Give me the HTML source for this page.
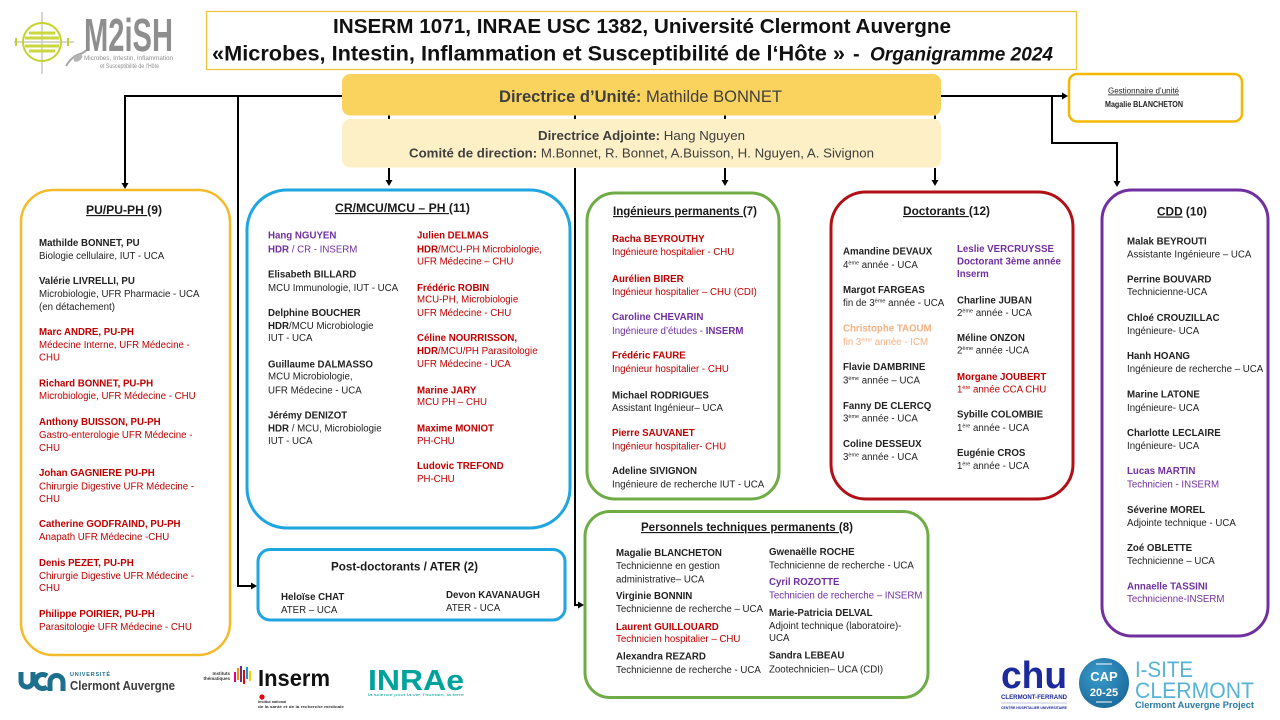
<!DOCTYPE html>
<html>
<head>
<meta charset="utf-8">
<style>
html,body{margin:0;padding:0;background:#fff;}
svg{display:block;}
text{font-family:"Liberation Sans",sans-serif;font-size:9.7px;fill:#222;}
.b{font-weight:bold;}
.r{fill:#c00000;}
.p{fill:#7030a0;}
.o{fill:#f4b183;}
.t{font-size:11.5px;font-weight:bold;fill:#1a1a1a;}
.u{text-decoration:underline;}
</style>
</head>
<body>
<svg width="1280" height="720" viewBox="0 0 1280 720" xmlns="http://www.w3.org/2000/svg">
<rect width="1280" height="720" fill="#fff"/>

<!-- M2iSH logo -->
<g>
  <line x1="14" y1="42" x2="74" y2="42" stroke="#c9c9c9" stroke-width="1.5"/>
  <line x1="42" y1="12" x2="42" y2="74" stroke="#c9c9c9" stroke-width="1.5"/>
  <circle cx="42" cy="42" r="19" fill="none" stroke="#c5d22c" stroke-width="2"/>
  <line x1="29" y1="33" x2="55" y2="33" stroke="#cbd73e" stroke-width="3"/>
  <line x1="25" y1="38" x2="59" y2="38" stroke="#cbd73e" stroke-width="3"/>
  <line x1="25" y1="46" x2="59" y2="46" stroke="#cbd73e" stroke-width="3"/>
  <line x1="29" y1="51" x2="55" y2="51" stroke="#cbd73e" stroke-width="3"/>
  <line x1="16" y1="38" x2="16" y2="46" stroke="#c5d22c" stroke-width="2"/>
  <line x1="68" y1="38" x2="68" y2="46" stroke="#c5d22c" stroke-width="2"/>
  <path d="M66,66 Q72,56 80,54 Q86,52 88,48" fill="none" stroke="#a8a8a8" stroke-width="2"/>
  <ellipse cx="78" cy="58" rx="5" ry="3" fill="#b5b5b5" transform="rotate(-35 78 58)"/>
  <text x="84" y="51" style="font-size:46px;font-weight:bold;fill:#8e8e8e" textLength="89" lengthAdjust="spacingAndGlyphs">M2iSH</text>
  <text x="84" y="60" style="font-size:6px;fill:#8e8e8e" textLength="89" lengthAdjust="spacingAndGlyphs">Microbes, Intestin, Inflammation</text>
  <text x="100" y="68" style="font-size:6px;fill:#8e8e8e" textLength="59" lengthAdjust="spacingAndGlyphs">et Susceptibilité de l'Hôte</text>
</g>

<!-- Title box -->
<rect x="206.5" y="11.5" width="870" height="58" fill="#fff" stroke="#f0c23a" stroke-width="1.2"/>
<text x="333" y="33" style="font-size:20.5px;font-weight:bold;fill:#111" textLength="618" lengthAdjust="spacingAndGlyphs">INSERM 1071, INRAE USC 1382, Université Clermont Auvergne</text>
<text x="212" y="60.5" style="font-size:21.5px;font-weight:bold;fill:#111" textLength="633" lengthAdjust="spacingAndGlyphs">«Microbes, Intestin, Inflammation et Susceptibilité de l‘Hôte »</text>
<text x="853" y="60.5" style="font-size:20px;font-weight:bold;fill:#111">-</text>
<text x="870" y="60.5" style="font-size:19px;font-weight:bold;font-style:italic;fill:#111" textLength="183" lengthAdjust="spacingAndGlyphs">Organigramme  2024</text>

<!-- Directrice boxes -->
<rect x="342" y="74" width="599" height="41.5" rx="8" fill="#fad35e"/>
<text x="499" y="102" style="font-size:16.5px;fill:#3f3f3f" textLength="283" lengthAdjust="spacingAndGlyphs"><tspan class="b" style="fill:#3f3f3f">Directrice d’Unité:</tspan> Mathilde BONNET</text>
<rect x="342" y="119" width="599" height="48.5" rx="8" fill="#fdefc6"/>
<text x="538" y="140" style="font-size:12.5px;fill:#404040" textLength="207" lengthAdjust="spacingAndGlyphs"><tspan class="b" style="fill:#404040">Directrice Adjointe:</tspan> Hang  Nguyen</text>
<text x="409" y="157.5" style="font-size:12.5px;fill:#404040" textLength="465" lengthAdjust="spacingAndGlyphs"><tspan class="b" style="fill:#404040">Comité de direction:</tspan> M.Bonnet, R. Bonnet,  A.Buisson, H. Nguyen, A. Sivignon</text>

<!-- Gestionnaire -->
<rect x="1069" y="74" width="173" height="47.5" rx="8" fill="#fff" stroke="#f5b800" stroke-width="2.5"/>
<text x="1108" y="93.5" style="font-size:8px;fill:#222" class="u" textLength="71" lengthAdjust="spacingAndGlyphs">Gestionnaire d’unité</text>
<text x="1105" y="107" style="font-size:8px;font-weight:bold;fill:#222" textLength="78" lengthAdjust="spacingAndGlyphs">Magalie BLANCHETON</text>

<!-- connector lines -->
<g stroke="#000" stroke-width="2" fill="none">
  <path d="M342,96 H125 V184"/>
  <path d="M238,96 V586 H252"/>
  <path d="M575,168 V605 H579"/>
  <path d="M389,115.5 V119 M575,115.5 V119 M725,115.5 V119 M935,115.5 V119"/>
  <path d="M389,168 V181"/>
  <path d="M725,168 V181"/>
  <path d="M935,168 V181"/>
  <path d="M941,96 H1063"/>
  <path d="M1052,96 V143 H1117 V182"/>
</g>
<g fill="#000">
  <polygon points="121.5,183 128.5,183 125,189"/>
  <polygon points="251,582.5 251,589.5 257,586"/>
  <polygon points="578,601.5 578,608.5 584,605"/>
  <polygon points="385.5,180 392.5,180 389,186"/>
  <polygon points="721.5,180 728.5,180 725,186"/>
  <polygon points="931.5,180 938.5,180 935,186"/>
  <polygon points="1062,92.5 1062,99.5 1068,96"/>
  <polygon points="1113.5,181 1120.5,181 1117,187"/>
</g>

<!-- PU / PU-PH box -->
<rect x="21" y="190" width="209" height="465" rx="32" fill="#fff" stroke="#f3bb2a" stroke-width="2.5"/>
<text x="86" y="214" class="t" textLength="76" lengthAdjust="spacingAndGlyphs"><tspan class="u">PU/PU-PH </tspan> (9)</text>
<g>
<text x="39" y="245.8" class="b">Mathilde BONNET, PU</text>
<text x="39" y="259.2">Biologie cellulaire, IUT - UCA</text>
<text x="39" y="284" class="b">Valérie LIVRELLI, PU</text>
<text x="39" y="297">Microbiologie, UFR Pharmacie - UCA</text>
<text x="39" y="310.2">(en détachement)</text>
<text x="39" y="335.2" class="b r">Marc ANDRE, PU-PH</text>
<text x="39" y="348" class="r">Médecine Interne, UFR Médecine -</text>
<text x="39" y="360.5" class="r">CHU</text>
<text x="39" y="386.5" class="b r">Richard BONNET, PU-PH</text>
<text x="39" y="399.2" class="r">Microbiologie, UFR Médecine - CHU</text>
<text x="39" y="425" class="b r">Anthony BUISSON, PU-PH</text>
<text x="39" y="438" class="r">Gastro-enterologie UFR Médecine -</text>
<text x="39" y="451" class="r">CHU</text>
<text x="39" y="476.2" class="b r">Johan GAGNIERE PU-PH</text>
<text x="39" y="489.5" class="r">Chirurgie Digestive UFR Médecine -</text>
<text x="39" y="502" class="r">CHU</text>
<text x="39" y="527" class="b r">Catherine GODFRAIND, PU-PH</text>
<text x="39" y="540" class="r">Anapath UFR Médecine -CHU</text>
<text x="39" y="566" class="b r">Denis PEZET, PU-PH</text>
<text x="39" y="579.2" class="r">Chirurgie Digestive UFR Médecine -</text>
<text x="39" y="591.2" class="r">CHU</text>
<text x="39" y="617" class="b r">Philippe POIRIER, PU-PH</text>
<text x="39" y="630.2" class="r">Parasitologie UFR Médecine - CHU</text>
</g>

<!-- CR / MCU box -->
<rect x="247" y="190" width="323" height="338" rx="40" fill="#fff" stroke="#1fa5e0" stroke-width="3"/>
<text x="335" y="212" class="t" textLength="135" lengthAdjust="spacingAndGlyphs"><tspan class="u">CR/MCU/MCU  – PH </tspan> (11)</text>
<g>
<text x="268" y="238.5" class="b p">Hang NGUYEN</text>
<text x="268" y="252.5" class="p"><tspan class="b">HDR</tspan> / CR - INSERM</text>
<text x="268" y="277.5" class="b">Elisabeth BILLARD</text>
<text x="268" y="291">MCU Immunologie, IUT - UCA</text>
<text x="268" y="316.2" class="b">Delphine BOUCHER</text>
<text x="268" y="329.2"><tspan class="b">HDR</tspan>/MCU Microbiologie</text>
<text x="268" y="341">IUT - UCA</text>
<text x="268" y="367.5" class="b">Guillaume DALMASSO</text>
<text x="268" y="379.5">MCU Microbiologie,</text>
<text x="268" y="393.5">UFR Médecine - UCA</text>
<text x="268" y="418.5" class="b">Jérémy DENIZOT</text>
<text x="268" y="431.5"><tspan class="b">HDR</tspan> / MCU,  Microbiologie</text>
<text x="268" y="444.2">IUT - UCA</text>

<text x="417" y="238.5" class="b r">Julien DELMAS</text>
<text x="417" y="252.5" class="r"><tspan class="b">HDR</tspan>/MCU-PH Microbiologie,</text>
<text x="417" y="264.5" class="r">UFR Médecine – CHU</text>
<text x="417" y="291" class="b r">Frédéric ROBIN</text>
<text x="417" y="302.5" class="r">MCU-PH,  Microbiologie</text>
<text x="417" y="316" class="r">UFR Médecine - CHU</text>
<text x="417" y="341" class="b r">Céline NOURRISSON,</text>
<text x="417" y="354.2" class="r"><tspan class="b">HDR</tspan>/MCU/PH Parasitologie</text>
<text x="417" y="367" class="r">UFR Médecine - UCA</text>
<text x="417" y="393.5" class="b r">Marine JARY</text>
<text x="417" y="405.2" class="r">MCU PH – CHU</text>
<text x="417" y="431.5" class="b r">Maxime MONIOT</text>
<text x="417" y="444.2" class="r">PH-CHU</text>
<text x="417" y="469.2" class="b r">Ludovic TREFOND</text>
<text x="417" y="482" class="r">PH-CHU</text>
</g>

<!-- Post-doc box -->
<rect x="258" y="549.5" width="307" height="70.5" rx="12" fill="#fff" stroke="#1fa5e0" stroke-width="3"/>
<text x="331" y="570.5" class="t" textLength="147" lengthAdjust="spacingAndGlyphs">Post-doctorants / ATER (2)</text>
<text x="281" y="600.2" class="b">Heloïse CHAT</text>
<text x="281" y="612.8">ATER – UCA</text>
<text x="446" y="597.8" class="b">Devon KAVANAUGH</text>
<text x="446" y="610.8">ATER -  UCA</text>

<!-- Ingénieurs permanents -->
<rect x="587" y="193" width="192" height="306" rx="28" fill="#fff" stroke="#6fac46" stroke-width="3"/>
<text x="613" y="215" class="t" textLength="144" lengthAdjust="spacingAndGlyphs"><tspan class="u">Ingénieurs permanents </tspan>(7)</text>
<g>
<text x="612" y="242" class="b r">Racha BEYROUTHY</text>
<text x="612" y="255.2" class="r">Ingénieure hospitalier  - CHU</text>
<text x="612" y="282" class="b r">Aurélien BIRER</text>
<text x="612" y="295.2" class="r">Ingénieur hospitalier – CHU (CDI)</text>
<text x="612" y="320.2" class="b p">Caroline CHEVARIN</text>
<text x="612" y="334.2" class="p">Ingénieure d’études  - <tspan class="b">INSERM</tspan></text>
<text x="612" y="358.5" class="b r">Frédéric FAURE</text>
<text x="612" y="371.8" class="r">Ingénieur hospitalier  - CHU</text>
<text x="612" y="398.5" class="b">Michael RODRIGUES</text>
<text x="612" y="411.2">Assistant Ingénieur– UCA</text>
<text x="612" y="436.2" class="b r">Pierre SAUVANET</text>
<text x="612" y="449.5" class="r">Ingénieur hospitalier-  CHU</text>
<text x="612" y="474.2" class="b">Adeline SIVIGNON</text>
<text x="612" y="487.5">Ingénieure de recherche  IUT - UCA</text>
</g>

<!-- Doctorants -->
<rect x="831" y="192" width="242" height="307" rx="35" fill="#fff" stroke="#b01016" stroke-width="3"/>
<text x="903" y="215" class="t" textLength="87" lengthAdjust="spacingAndGlyphs"><tspan class="u">Doctorants </tspan>(12)</text>
<g>
<text x="843" y="254.5" class="b">Amandine DEVAUX</text>
<text x="843" y="267.8">4<tspan style="font-size:5.5px" dy="-3.5">ème</tspan><tspan dy="3.5"> année  - UCA</tspan></text>
<text x="843" y="292.8" class="b">Margot FARGEAS</text>
<text x="843" y="306.2">fin de 3<tspan style="font-size:5.5px" dy="-3.5">ème</tspan><tspan dy="3.5"> année - UCA</tspan></text>
<text x="843" y="331.5" class="b o">Christophe TAOUM</text>
<text x="843" y="345.2" class="o">fin 3<tspan style="font-size:5.5px" dy="-3.5">ème</tspan><tspan dy="3.5"> année  - ICM</tspan></text>
<text x="843" y="370.2" class="b">Flavie DAMBRINE</text>
<text x="843" y="383.5">3<tspan style="font-size:5.5px" dy="-3.5">ème</tspan><tspan dy="3.5"> année – UCA</tspan></text>
<text x="843" y="409.2" class="b">Fanny DE CLERCQ</text>
<text x="843" y="421.5">3<tspan style="font-size:5.5px" dy="-3.5">ème</tspan><tspan dy="3.5"> année - UCA</tspan></text>
<text x="843" y="446.8" class="b">Coline DESSEUX</text>
<text x="843" y="460.2">3<tspan style="font-size:5.5px" dy="-3.5">ème</tspan><tspan dy="3.5"> année - UCA</tspan></text>

<text x="957" y="251.8" class="b p">Leslie VERCRUYSSE</text>
<text x="957" y="264.5" class="b p">Doctorant 3ème année</text>
<text x="957" y="276.8" class="b p">Inserm</text>
<text x="957" y="303.5" class="b">Charline JUBAN</text>
<text x="957" y="316.2">2<tspan style="font-size:5.5px" dy="-3.5">ème</tspan><tspan dy="3.5"> année - UCA</tspan></text>
<text x="957" y="340.8" class="b">Méline ONZON</text>
<text x="957" y="353.5">2<tspan style="font-size:5.5px" dy="-3.5">ème</tspan><tspan dy="3.5"> année -UCA</tspan></text>
<text x="957" y="380.2" class="b r">Morgane JOUBERT</text>
<text x="957" y="392.5" class="r">1<tspan style="font-size:5.5px" dy="-3.5">ère</tspan><tspan dy="3.5"> année CCA CHU</tspan></text>
<text x="957" y="417.5" class="b">Sybille COLOMBIE</text>
<text x="957" y="430.8">1<tspan style="font-size:5.5px" dy="-3.5">ère</tspan><tspan dy="3.5"> année - UCA</tspan></text>
<text x="957" y="456.2" class="b">Eugénie CROS</text>
<text x="957" y="469.2">1<tspan style="font-size:5.5px" dy="-3.5">ère</tspan><tspan dy="3.5"> année - UCA</tspan></text>
</g>

<!-- CDD -->
<rect x="1102" y="190" width="166" height="446" rx="30" fill="#fff" stroke="#7030a0" stroke-width="3"/>
<text x="1157" y="215.5" class="t" textLength="50" lengthAdjust="spacingAndGlyphs"><tspan class="u">CDD</tspan> (10)</text>
<g>
<text x="1127" y="244.5" class="b">Malak BEYROUTI</text>
<text x="1127" y="257.5">Assistante Ingénieure – UCA</text>
<text x="1127" y="282.5" class="b">Perrine BOUVARD</text>
<text x="1127" y="295.2">Technicienne-UCA</text>
<text x="1127" y="320.8" class="b">Chloé CROUZILLAC</text>
<text x="1127" y="334.2">Ingénieure- UCA</text>
<text x="1127" y="359.2" class="b">Hanh HOANG</text>
<text x="1127" y="371.8">Ingénieure de recherche – UCA</text>
<text x="1127" y="397.5" class="b">Marine LATONE</text>
<text x="1127" y="410.8">Ingénieure- UCA</text>
<text x="1127" y="435.8" class="b">Charlotte LECLAIRE</text>
<text x="1127" y="449.2">Ingénieure- UCA</text>
<text x="1127" y="474.2" class="b p">Lucas MARTIN</text>
<text x="1127" y="487.5" class="p">Technicien  - INSERM</text>
<text x="1127" y="512.8" class="b">Séverine MOREL</text>
<text x="1127" y="525.8">Adjointe technique - UCA</text>
<text x="1127" y="551.2" class="b">Zoé OBLETTE</text>
<text x="1127" y="564.2">Technicienne – UCA</text>
<text x="1127" y="589.5" class="b p">Annaelle TASSINI</text>
<text x="1127" y="601.8" class="p">Technicienne-INSERM</text>
</g>

<!-- Personnels techniques permanents -->
<rect x="585" y="511.5" width="343" height="186" rx="25" fill="#fff" stroke="#6fac46" stroke-width="3"/>
<text x="641" y="531" class="t" textLength="212" lengthAdjust="spacingAndGlyphs"><tspan class="u">Personnels techniques permanents </tspan>(8)</text>
<g>
<text x="616" y="556.2" class="b">Magalie BLANCHETON</text>
<text x="616" y="569.2">Technicienne en gestion</text>
<text x="616" y="582.5">administrative– UCA</text>
<text x="616" y="599.2" class="b">Virginie BONNIN</text>
<text x="616" y="611.8">Technicienne de recherche – UCA</text>
<text x="616" y="630.2" class="b r">Laurent GUILLOUARD</text>
<text x="616" y="641.8" class="r">Technicien hospitalier – CHU</text>
<text x="616" y="659.5" class="b">Alexandra REZARD</text>
<text x="616" y="672.8">Technicienne de recherche - UCA</text>

<text x="769" y="555.2" class="b">Gwenaëlle ROCHE</text>
<text x="769" y="568.5">Technicienne de recherche - UCA</text>
<text x="769" y="585.2" class="b p">Cyril ROZOTTE</text>
<text x="769" y="598.5" class="p">Technicien de recherche – INSERM</text>
<text x="769" y="615.8" class="b">Marie-Patricia DELVAL</text>
<text x="769" y="629.2">Adjoint technique (laboratoire)-</text>
<text x="769" y="641.2">UCA</text>
<text x="769" y="658.5" class="b">Sandra LEBEAU</text>
<text x="769" y="672.5">Zootechnicien– UCA (CDI)</text>
</g>

<!-- Bottom logos -->
<!-- UCA -->
<g fill="none" stroke="#1d6f8e" stroke-width="5" stroke-linecap="butt">
  <path d="M21,672 V681 a6,6 0 0 0 12,0 V672"/>
  <path d="M47,676 A7,7 0 1 0 47,687"/>
  <path d="M50,691 V682 a6.5,6.5 0 0 1 13,0 V691"/>
</g>
<text x="70" y="676" style="font-size:5.5px;fill:#1d6f8e;font-weight:bold" textLength="40" lengthAdjust="spacing">UNIVERSITÉ</text>
<text x="70" y="690" style="font-size:12.5px;font-weight:bold;fill:#3b3b3b" textLength="105" lengthAdjust="spacingAndGlyphs">Clermont Auvergne</text>

<!-- Inserm -->
<text x="230" y="675" text-anchor="end" style="font-size:4.5px;font-weight:bold;fill:#333">Instituts</text>
<text x="230" y="680" text-anchor="end" style="font-size:4.5px;font-weight:bold;fill:#333">thématiques</text>
<rect x="234" y="672" width="2" height="10" fill="#e4007e"/>
<rect x="237" y="668" width="2" height="12" fill="#f39200"/>
<rect x="240" y="666" width="2" height="16" fill="#6b2c91"/>
<rect x="243" y="670" width="2" height="14" fill="#e30613"/>
<rect x="246" y="667" width="2" height="12" fill="#009fe3"/>
<rect x="249" y="671" width="2" height="10" fill="#ffcc00"/>
<text x="258" y="686" style="font-size:23px;font-weight:bold;fill:#111" textLength="72" lengthAdjust="spacingAndGlyphs">Inserm</text>
<circle cx="262" cy="697" r="2.6" fill="#e30613"/>
<text x="258" y="703" style="font-size:3.8px;font-weight:bold;fill:#333">Institut national</text>
<text x="258" y="708" style="font-size:3.8px;font-weight:bold;fill:#333" textLength="86" lengthAdjust="spacingAndGlyphs">de la santé et de la recherche médicale</text>

<!-- INRAE -->
<text x="368" y="690" style="font-size:29px;font-weight:bold;fill:#00a39b" textLength="96" lengthAdjust="spacingAndGlyphs">INRAe</text>
<text x="368" y="696" style="font-size:4px;fill:#00a39b" textLength="96" lengthAdjust="spacingAndGlyphs">la science pour la vie, l'humain, la terre</text>

<!-- CHU -->
<text x="1001" y="688" style="font-size:38px;font-weight:bold;fill:#1d2a9b" textLength="66" lengthAdjust="spacingAndGlyphs">chu</text>
<text x="1001" y="699" style="font-size:6px;font-weight:bold;fill:#1d2a9b" textLength="66" lengthAdjust="spacingAndGlyphs">CLERMONT-FERRAND</text>
<line x1="1001" y1="703" x2="1067" y2="703" stroke="#8a90c8" stroke-width="0.6"/>
<text x="1001" y="709" style="font-size:3.5px;font-weight:bold;fill:#1d2a9b" textLength="66" lengthAdjust="spacingAndGlyphs">CENTRE HOSPITALIER UNIVERSITAIRE</text>

<!-- CAP 20-25 -->
<defs>
  <radialGradient id="capg" cx="0.4" cy="0.35" r="0.7">
    <stop offset="0" stop-color="#3a9ccc"/>
    <stop offset="1" stop-color="#1b6a9a"/>
  </radialGradient>
</defs>
<circle cx="1104" cy="683" r="25" fill="url(#capg)"/>
<line x1="1096" y1="664" x2="1112" y2="664" stroke="#fff" stroke-width="1"/>
<line x1="1096" y1="702" x2="1112" y2="702" stroke="#fff" stroke-width="1"/>
<text x="1104" y="681" text-anchor="middle" style="font-size:13px;font-weight:bold;fill:#fff">CAP</text>
<text x="1104" y="696" text-anchor="middle" style="font-size:11px;font-weight:bold;fill:#fff">20-25</text>

<!-- I-SITE -->
<text x="1135" y="677" style="font-size:22px;fill:#57b3d5" textLength="58" lengthAdjust="spacingAndGlyphs">I-SITE</text>
<text x="1135" y="698" style="font-size:22px;fill:#57b3d5" textLength="119" lengthAdjust="spacingAndGlyphs">CLERMONT</text>
<text x="1135" y="708" style="font-size:9px;font-weight:bold;fill:#2a7aa8" textLength="119" lengthAdjust="spacingAndGlyphs">Clermont Auvergne Project</text>
</svg>
</body>
</html>
